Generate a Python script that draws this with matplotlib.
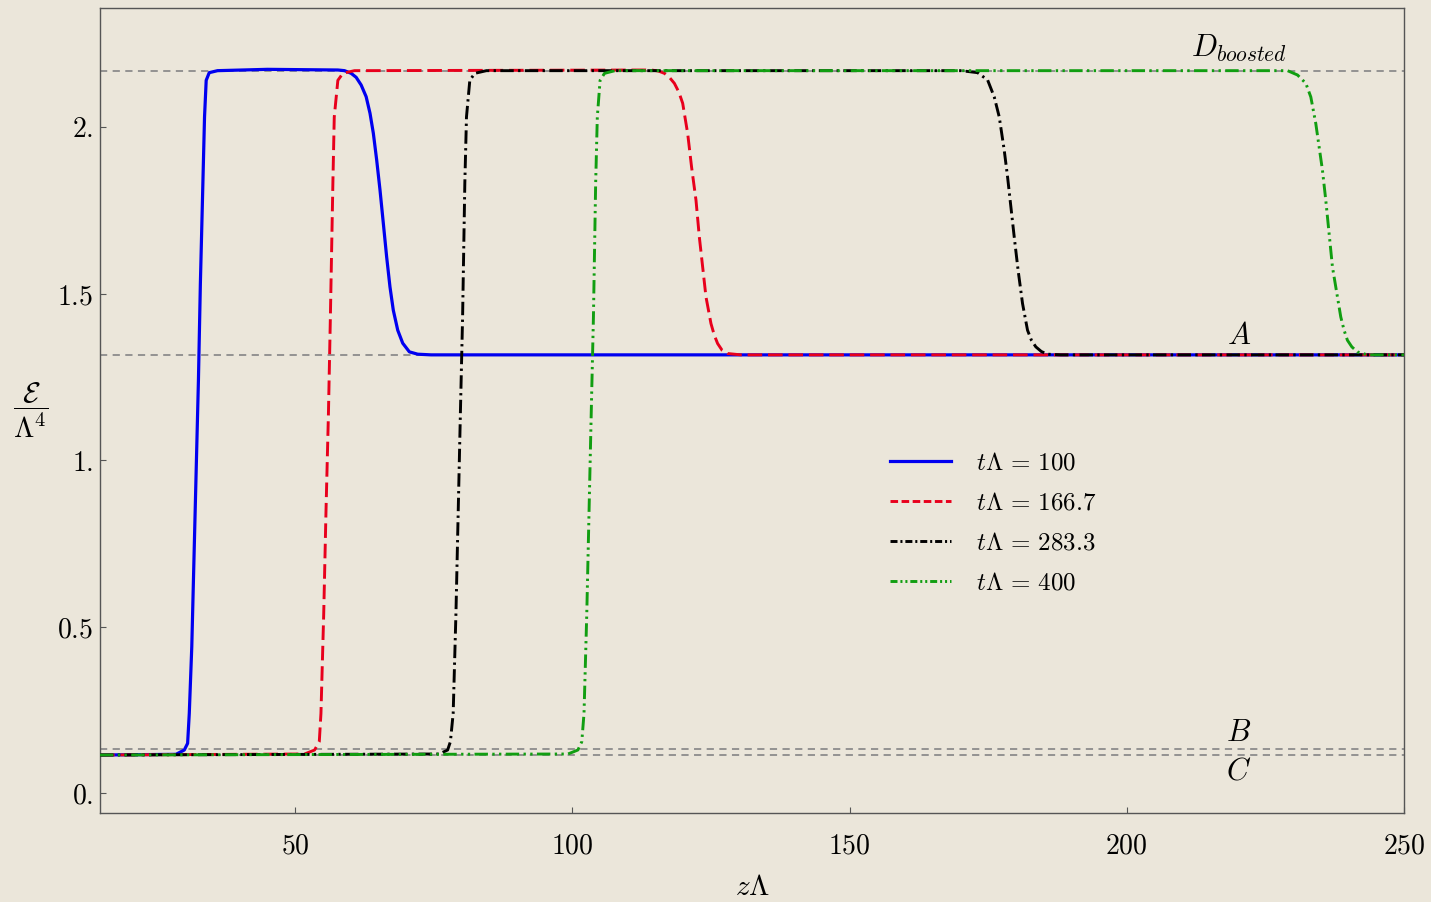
import matplotlib
matplotlib.use("Agg")
import matplotlib.pyplot as plt
from matplotlib.lines import Line2D

plt.rcParams['mathtext.fontset'] = 'cm'
plt.rcParams['font.family'] = 'serif'

# energy density profiles
blue_x = [14.8, 28.5, 30.0, 30.6, 30.9, 31.35, 31.8, 32.25, 32.55, 32.9, 33.35, 33.65, 33.95, 34.5, 36.0, 45.0,
          57.7, 58.9, 60.1, 61.0, 61.9, 62.8, 63.5, 64.1, 64.7, 65.3, 65.9, 66.5, 67.1, 67.7, 68.5, 69.4,
          70.6, 72.1, 74.5, 250]
blue_y = [0.115, 0.117, 0.130, 0.150, 0.24, 0.44, 0.74, 1.04, 1.24, 1.53, 1.83, 2.03, 2.14, 2.163, 2.169, 2.173,
          2.171, 2.169, 2.161, 2.149, 2.126, 2.091, 2.041, 1.981, 1.901, 1.811, 1.711, 1.610, 1.520, 1.450,
          1.390, 1.351, 1.325, 1.318, 1.316, 1.316]

red_x = [14.8, 51.7, 53.5, 54.35, 54.65, 55.15, 55.55, 56.0, 56.35, 56.8, 57.05, 57.7, 58.6, 60.7,
         114.2, 115.5, 116.6, 117.5, 118.4, 119.2, 119.9, 120.8, 121.5, 122.3, 122.9, 123.5, 124.1, 125.0,
         125.6, 126.2, 127.0, 128.0, 130.4, 250]
red_y = [0.115, 0.118, 0.130, 0.155, 0.24, 0.54, 0.84, 1.14, 1.43, 1.83, 2.03, 2.14, 2.161, 2.169,
         2.171, 2.168, 2.161, 2.149, 2.131, 2.105, 2.071, 1.98, 1.88, 1.78, 1.67, 1.58, 1.49, 1.41,
         1.375, 1.35, 1.33, 1.32, 1.316, 1.316]

black_x = [14.8, 76.0, 77.5, 78.0, 78.5, 79.0, 79.4, 79.8, 80.2, 80.6, 80.9, 81.5, 82.4, 84.5,
           170.1, 173.1, 174.9, 176.1, 177.0, 177.9, 178.5, 179.1, 179.7, 180.4, 181.2, 182.1, 182.8,
           183.6, 184.6, 185.7, 188.1, 250]
black_y = [0.115, 0.118, 0.130, 0.155, 0.24, 0.54, 0.84, 1.14, 1.43, 1.83, 2.03, 2.14, 2.161, 2.169,
           2.169, 2.163, 2.141, 2.09, 2.03, 1.93, 1.85, 1.76, 1.67, 1.57, 1.47, 1.39, 1.36,
           1.34, 1.326, 1.318, 1.316, 1.316]

green_x = [14.8, 99.2, 101.0, 101.7, 102.1, 102.6, 103.0, 103.4, 103.8, 104.2, 104.5, 105.0, 105.8, 107.7,
           229.0, 230.8, 232.3, 233.2, 234.1, 234.7, 235.3, 235.9, 236.5, 237.1, 237.9, 238.6, 239.2,
           239.8, 240.6, 241.6, 243.4, 250]
green_y = [0.115, 0.118, 0.130, 0.155, 0.24, 0.54, 0.84, 1.14, 1.43, 1.83, 2.03, 2.14, 2.161, 2.169,
           2.169, 2.156, 2.131, 2.09, 2.01, 1.94, 1.87, 1.78, 1.68, 1.58, 1.50, 1.43, 1.39,
           1.36, 1.34, 1.325, 1.316, 1.316]

labels = [r'$t\Lambda\,=\,100$', r'$t\Lambda\,=\,166.7$', r'$t\Lambda\,=\,283.3$', r'$t\Lambda\,=\,400$']

# reference levels
ref_levels = [2.169, 1.316, 0.132, 0.115]
ref_names = [r'$D_{boosted}$', r'$A$', r'$B$', r'$C$']
ref_label_x = 220.2
ref_label_y = [2.237, 1.375, 0.184, 0.067]

xticks = [50, 100, 150, 200, 250]
yticks = [0, 0.5, 1, 1.5, 2]
ytick_labels = ['0.', '0.5', '1.', '1.5', '2.']

bg = '#ebe6da'
fig = plt.figure(figsize=(14.31, 9.02), dpi=100, facecolor=bg)
ax = fig.add_axes([0.0699, 0.0987, 0.9112, 0.8924])
ax.set_facecolor(bg)

for lev in ref_levels:
    ax.axhline(lev, color='#8c8c8c', lw=1.3, ls=(0, (4, 3)), zorder=1)

lw = 2.1
red_ls = (0, (5.0, 2.0))
black_ls = (0, (4.6, 1.5, 0.8, 1.5))
green_ls = (0, (4.6, 1.5, 0.8, 1.5, 0.8, 1.5))
ax.plot(blue_x, blue_y, color='#0000f0', lw=lw + 0.2, zorder=3)
ax.plot(red_x, red_y, color='#e8001c', lw=lw, ls=red_ls, zorder=4)
ax.plot(black_x, black_y, color='black', lw=lw, ls=black_ls, zorder=5)
ax.plot(green_x, green_y, color='#119e11', lw=lw, ls=green_ls, zorder=6)

for name, ly in zip(ref_names, ref_label_y):
    ax.text(ref_label_x, ly, name, fontsize=22, ha='center', va='center')

handles = [
    Line2D([], [], color='#0000f0', lw=lw + 0.2),
    Line2D([], [], color='#e8001c', lw=lw, ls=(0, (2.6, 1.2))),
    Line2D([], [], color='black', lw=lw, ls=(0, (2.4, 1.0, 0.7, 1.0))),
    Line2D([], [], color='#119e11', lw=lw, ls=(0, (2.4, 1.0, 0.7, 1.0, 0.7, 1.0))),
]
ax.legend(handles, labels, loc='center left', bbox_to_anchor=(0.606, 0.360), frameon=False,
          fontsize=18, handlelength=2.45, handletextpad=1.0, labelspacing=0.68, borderpad=0,
          borderaxespad=0)

ax.set_xlim(14.8, 250)
ax.set_ylim(-0.059, 2.357)
ax.set_xticks(xticks)
ax.set_xticklabels(['$%d$' % t for t in xticks])
ax.set_yticks(yticks)
ax.set_yticklabels(['$%s$' % s for s in ytick_labels])
ax.tick_params(direction='in', length=4, width=0.8, color='#555555', labelsize=20)
ax.tick_params(axis='x', pad=14)
ax.tick_params(axis='y', pad=5)
for sp in ax.spines.values():
    sp.set_color('#555555')
    sp.set_linewidth(1.0)

ax.set_xlabel(r'$z\Lambda$', fontsize=21)
ax.xaxis.set_label_coords(0.5, -0.074)
ax.set_ylabel(r'$\dfrac{\mathcal{E}}{\Lambda^4}$', fontsize=21, rotation=0, ha='center', va='center')
ax.yaxis.set_label_coords(-0.053, 0.50)

fig.savefig('out.png', dpi=100, facecolor=bg)
